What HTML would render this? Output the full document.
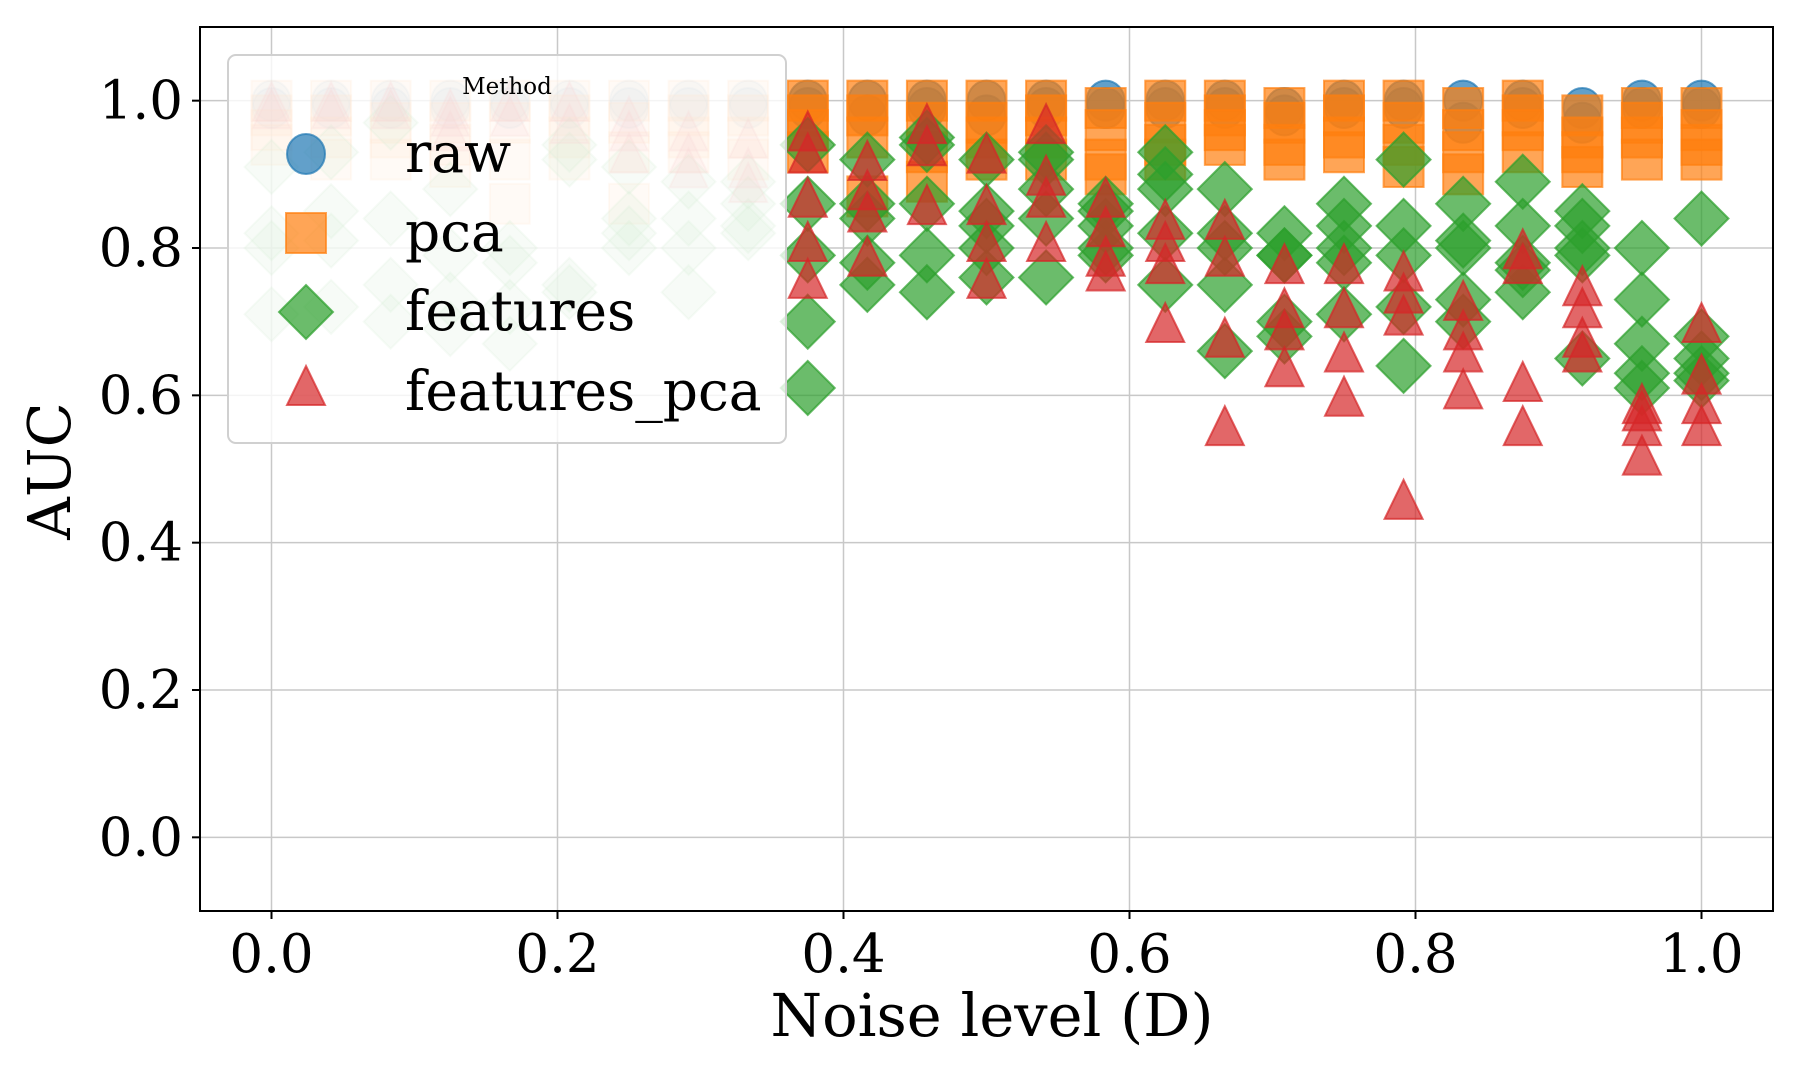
<!DOCTYPE html>
<html><head><meta charset="utf-8">
<style>
html,body{margin:0;padding:0;background:#fff;}
svg{display:block;font-family:"DejaVu Serif","Liberation Serif",serif;}
</style></head>
<body>
<svg id="chart" width="1800" height="1080" viewBox="0 0 1800 1080">
<rect x="0" y="0" width="1800" height="1080" fill="#fff"/>
<g id="grid"></g>
<g id="marks"></g>
<rect x="200" y="27" width="1573" height="884" fill="none" stroke="#000" stroke-width="2"/>
<g id="ticks"></g>
<text x="992" y="1036" font-size="59" text-anchor="middle">Noise level (D)</text>
<text x="0" y="0" font-size="59" text-anchor="middle" transform="translate(70,471) rotate(-90)">AUC</text>
<g id="legend"></g>
</svg>
<script>
const xTicks = [0.0, 0.2, 0.4, 0.6, 0.8, 1.0];
const yTicks = [0.0, 0.2, 0.4, 0.6, 0.8, 1.0];
const tickFmt = v => v.toFixed(1);
const methods = ["raw", "pca", "features", "features_pca"];
const noiseLevels = [0,1/24,2/24,3/24,4/24,5/24,6/24,7/24,8/24,9/24,10/24,11/24,12/24,13/24,14/24,15/24,16/24,17/24,18/24,19/24,20/24,21/24,22/24,23/24,1];
const fadedCount = 9;
const rawValues = [
[1.0,0.99],[1.0,0.99],[1.0,0.99],[1.0,0.99],[1.0,0.99],[1.0,0.99],[1.0,0.99],[1.0,0.99],[1.0,0.99],
[1.0,0.99],[1.0,0.98],[1.0,0.99],[1.0,0.98],[1.0,0.99],[1.0,0.99],[1.0,0.99],[1.0,0.99],[0.99,0.98],
[1.0,0.99],[1.0,0.99],[1.0,0.97],[1.0,0.99],[0.99,0.97],[1.0,0.99],[1.0,0.99]];
const pcaValues = [
[1.0,0.98,0.96,0.94],[1.0,0.98,0.95,0.92],[1.0,0.97,0.95,0.92],[1.0,0.97,0.94,0.91],[1.0,0.97,0.92,0.86],
[1.0,0.98,0.95,0.92],[1.0,0.97,0.93,0.86],[1.0,0.98,0.95,0.93],[1.0,0.98,0.95,0.92],
[1.0,0.98,0.96,0.93],[1.0,0.98,0.95,0.87],[1.0,0.97,0.93,0.89],[1.0,0.97,0.95,0.92],[1.0,0.98,0.95,0.92],
[0.99,0.96,0.92,0.90],[1.0,0.97,0.94,0.92],[1.0,0.98,0.96,0.94],[0.99,0.97,0.94,0.92],[1.0,0.98,0.95,0.93],
[1.0,0.97,0.94,0.91],[0.99,0.96,0.93,0.90],[1.0,0.98,0.96,0.93],[0.98,0.95,0.93,0.91],[0.99,0.97,0.95,0.92],[0.99,0.96,0.94,0.92]];
const featuresValues = [
[0.91,0.80,0.71,0.82],[0.93,0.85,0.72,0.81],[0.97,0.84,0.70,0.75],[0.88,0.79,0.73,0.69],[0.80,0.78,0.67,0.72],
[0.94,0.92,0.75,0.74],[0.91,0.84,0.80,0.82],[0.89,0.84,0.80,0.74],[0.89,0.86,0.82,0.83],
[0.94,0.86,0.79,0.70,0.61],[0.92,0.84,0.78,0.75,0.86],[0.95,0.86,0.79,0.74,0.94],[0.92,0.85,0.83,0.76,0.80],
[0.93,0.92,0.88,0.84,0.76],[0.85,0.83,0.80,0.79,0.86],[0.93,0.88,0.90,0.75,0.82],[0.88,0.82,0.75,0.66,0.80],
[0.82,0.79,0.70,0.68,0.79],[0.86,0.83,0.80,0.71,0.78],[0.92,0.83,0.79,0.72,0.64],[0.86,0.81,0.80,0.73,0.70],
[0.89,0.83,0.77,0.74,0.78],[0.85,0.83,0.80,0.79,0.65],[0.80,0.73,0.67,0.63,0.61],[0.84,0.68,0.65,0.63,0.62]];
const featuresPcaValues = [
[0.99,0.98],[0.99,0.98],[0.99,0.98],[0.98,0.97,0.95],[0.99,0.97],[0.99,0.96],[0.97,0.95,0.92],[0.95,0.92,0.90],[0.94,0.90,0.88],
[0.95,0.92,0.86,0.80,0.75],[0.91,0.87,0.84,0.78],[0.96,0.93,0.85],[0.92,0.85,0.80,0.75],[0.96,0.89,0.86,0.80],
[0.86,0.82,0.78,0.76],[0.83,0.80,0.77,0.69],[0.83,0.78,0.67,0.55],[0.77,0.71,0.68,0.63],[0.77,0.71,0.65,0.59],
[0.76,0.73,0.70,0.45],[0.72,0.68,0.65,0.60],[0.79,0.77,0.61,0.55],[0.74,0.71,0.67,0.65],[0.57,0.55,0.51,0.58],[0.69,0.62,0.58,0.55]];

const NS = "http://www.w3.org/2000/svg";
const X0 = 200, X1 = 1773, Y0 = 911, Y1 = 27;
const xMin = -0.05, xMax = 1.05, yMin = -0.1, yMax = 1.1;
const sx = v => X0 + (v - xMin) / (xMax - xMin) * (X1 - X0);
const sy = v => Y0 - (v - yMin) / (yMax - yMin) * (Y0 - Y1);
function mk(tag, attrs, parent) {
  const e = document.createElementNS(NS, tag);
  for (const k in attrs) e.setAttribute(k, attrs[k]);
  parent.appendChild(e);
  return e;
}
const colors = {raw:"#1f77b4", pca:"#ff7f0e", features:"#2ca02c", features_pca:"#d62728"};
function marker(kind, cx, cy, parent, opacity, size) {
  const s = size || 1;
  const c = colors[kind];
  const common = {fill:c, stroke:c, "stroke-width":2, "fill-opacity":opacity, "stroke-opacity":opacity};
  let e;
  if (kind === "raw") {
    e = mk("ellipse", Object.assign({cx:cx, cy:cy, rx:19*s, ry:20*s}, common), parent);
  } else if (kind === "pca") {
    e = mk("rect", Object.assign({x:cx-20*s, y:cy-20*s, width:40*s, height:40*s}, common), parent);
  } else if (kind === "features") {
    e = mk("polygon", Object.assign({points:`${cx},${cy-27*s} ${cx+27*s},${cy} ${cx},${cy+27*s} ${cx-27*s},${cy}`}, common), parent);
  } else {
    e = mk("polygon", Object.assign({points:`${cx},${cy-26*s} ${cx+19*s},${cy+13*s} ${cx-19*s},${cy+13*s}`}, common), parent);
  }
  return e;
}
const grid = document.getElementById("grid");
xTicks.forEach(t => {
  const l = mk("line", {x1:sx(t), x2:sx(t), y1:Y1, y2:Y0, stroke:"#c8c8c8", "stroke-width":1.5}, grid);
  
  
});
yTicks.forEach(t => {
  const l = mk("line", {x1:X0, x2:X1, y1:sy(t), y2:sy(t), stroke:"#c8c8c8", "stroke-width":1.5}, grid);
  
  
});
const ticks = document.getElementById("ticks");
xTicks.forEach(t => {
  const l = mk("line", {x1:sx(t), x2:sx(t), y1:Y0, y2:Y0+8, stroke:"#000", "stroke-width":2}, ticks);
  
  
  const tx = mk("text", {x:sx(t), y:Y0+61, "font-size":53, "text-anchor":"middle"}, ticks);
  tx.textContent = tickFmt(t);
  
  
});
yTicks.forEach(t => {
  const l = mk("line", {x1:X0-8, x2:X0, y1:sy(t), y2:sy(t), stroke:"#000", "stroke-width":2}, ticks);
  
  
  const tx = mk("text", {x:X0-17, y:sy(t)+18, "font-size":53, "text-anchor":"end"}, ticks);
  tx.textContent = tickFmt(t);
  
  
});
const marks = document.getElementById("marks");
const seriesVals = {raw:rawValues, pca:pcaValues, features:featuresValues, features_pca:featuresPcaValues};
methods.forEach(m => {
  const g = mk("g", {}, marks);
  
  
  seriesVals[m].forEach((vals, i) => {
    const op = i < fadedCount ? 0.2 : 0.7;
    vals.forEach(v => {
      const e = marker(m, sx(noiseLevels[i]), sy(v), g, op);
      
      
    });
  });
});
const leg = document.getElementById("legend");
const box = mk("rect", {x:228, y:55, width:558, height:388, rx:8, fill:"#fff", "fill-opacity":0.8, stroke:"#d0d0d0", "stroke-width":2}, leg);


const title = mk("text", {x:507, y:94, "font-size":23, "text-anchor":"middle"}, leg);
title.textContent = "Method";


const legY = [154, 233, 312, 392];
methods.forEach((m, i) => {
  const g = mk("g", {}, leg);
  
  
  marker(m, 306, legY[i], g, 0.7, 1);
  const t = mk("text", {x:405, y:legY[i]+18, "font-size":55}, g);
  t.textContent = m;
});
</script>
</body></html>
